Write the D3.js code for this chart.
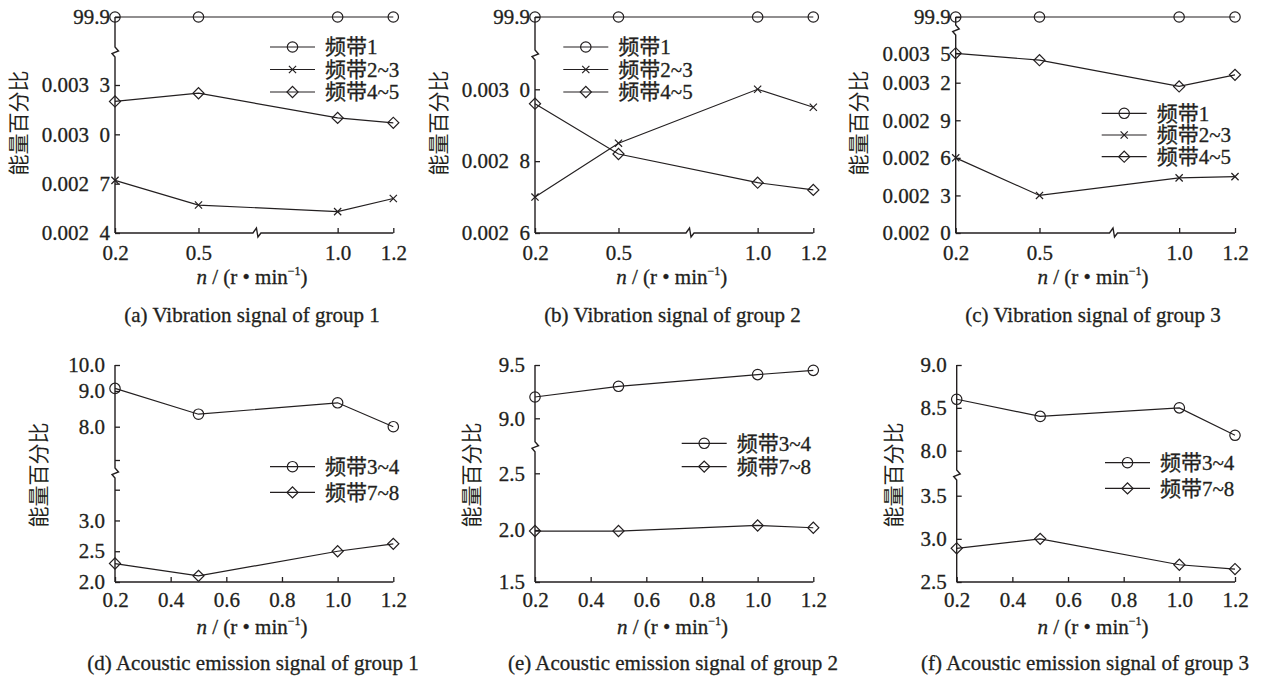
<!DOCTYPE html>
<html lang="zh">
<head>
<meta charset="UTF-8">
<title>能量百分比</title>
<script src="https://cdnjs.cloudflare.com/ajax/libs/d3/7.8.5/d3.min.js"></script>
<style>
	body { margin: 0; background: #fff; }
	svg text {
		font-family: 'Liberation Serif', 'Times New Roman', 'Noto Sans CJK SC', serif;
		fill: #231f20;
		stroke: #231f20;
		stroke-width: 0.3px;
	}
</style>
</head>
<body>
<script>

// ---- data ----
var speeds = [0.2, 0.5, 1.0, 1.2];
var xTicksVib = [0.2, 0.5, 1.0, 1.2];
var xTicksAE = [0.2, 0.4, 0.6, 0.8, 1.0, 1.2];

var vibNames = ['频带1', '频带2~3', '频带4~5'];
var aeNames = ['频带3~4', '频带7~8'];

// vibration, group 1..3
var vib1Band1 = [99.9, 99.9, 99.9, 99.9];
var vib1Band23 = [0.00272, 0.00257, 0.00253, 0.00261];
var vib1Band45 = [0.00320, 0.00325, 0.00310, 0.00307];

var vib2Band1 = [99.9, 99.9, 99.9, 99.9];
var vib2Band23 = [0.00270, 0.00285, 0.00300, 0.00295];
var vib2Band45 = [0.00296, 0.00282, 0.00274, 0.00272];

var vib3Band1 = [99.9, 99.9, 99.9, 99.9];
var vib3Band23 = [0.00260, 0.00230, 0.00244, 0.00245];
var vib3Band45 = [0.00350, 0.00343, 0.00317, 0.00328];

// acoustic emission, group 1..3
var ae1Band34 = [9.1, 8.35, 8.67, 8.0];
var ae1Band78 = [2.3, 2.1, 2.5, 2.62];

var ae2Band34 = [9.2, 9.3, 9.41, 9.45];
var ae2Band78 = [1.99, 1.99, 2.04, 2.02];

var ae3Band34 = [8.6, 8.4, 8.5, 8.18];
var ae3Band78 = [2.89, 3.0, 2.70, 2.65];

// y tick values
var vib1Ticks = [0.0024, 0.0027, 0.0030, 0.0033, 99.9];
var vib2Ticks = [0.0026, 0.0028, 0.0030, 99.9];
var vib3Ticks = [0.0020, 0.0023, 0.0026, 0.0029, 0.0032, 0.0035, 99.9];
var ae1Ticks = [2.0, 2.5, 3.0, 3.5, 7.0, 8.0, 9.0, 10.0];
var ae1Unlabeled = [3.5, 7.0];
var ae2Ticks = [1.5, 2.0, 2.5, 9.0, 9.5];
var ae3Ticks = [2.5, 3.0, 3.5, 8.0, 8.5, 9.0];

var captions = [
	'(a) Vibration signal of group 1',
	'(b) Vibration signal of group 2',
	'(c) Vibration signal of group 3',
	'(d) Acoustic emission signal of group 1',
	'(e) Acoustic emission signal of group 2',
	'(f) Acoustic emission signal of group 3'
];

var ink = '#231f20';
var fontSize = 21;

function fmtVib(v) {
	if (v > 1) return d3.format('.1f')(v);
	var s = d3.format('.4f')(v);
	return s.slice(0, -1) + '\u2002' + s.slice(-1);
}
function fmtAE(unlabeled) {
	return function (v) {
		return unlabeled.indexOf(v) >= 0 ? '' : d3.format('.1f')(v);
	};
}

// ---- layout per panel (broken axes are polylinear scales) ----
var panels = [
	{ x0: 115, x1: 393.3, yDom: [0.0024, 0.0033, 99.9], yRng: [233, 85, 17], yTicks: vib1Ticks,
	  xTicks: xTicksVib, yBreak: 52, xBreak: 0.71, yPad: 5, xPad: 12, fmt: fmtVib,
	  series: [vib1Band1, vib1Band23, vib1Band45], names: vibNames, marks: ['circle', 'times', 'diamond'],
	  leg: [270, 47, 22.5], title: [18.3, 123], capX: 252, labX: 252, labY: 284, capY: 322 },
	{ x0: 535, x1: 813.3, yDom: [0.0026, 0.0030, 99.9], yRng: [233, 89.3, 17], yTicks: vib2Ticks,
	  xTicks: xTicksVib, yBreak: 55, xBreak: 0.757, yPad: 5, xPad: 12, fmt: fmtVib,
	  series: [vib2Band1, vib2Band23, vib2Band45], names: vibNames, marks: ['circle', 'times', 'diamond'],
	  leg: [563.3, 47, 22.5], title: [438.3, 123], capX: 672.5, labX: 671.7, labY: 284, capY: 322 },
	{ x0: 955.7, x1: 1235, yDom: [0.0020, 0.0032, 0.0035, 99.9], yRng: [233, 82.7, 53.3, 17], yTicks: vib3Ticks,
	  xTicks: xTicksVib, yBreak: 30, xBreak: 0.765, yPad: 5, xPad: 12, fmt: fmtVib,
	  series: [vib3Band1, vib3Band23, vib3Band45], names: vibNames, marks: ['circle', 'times', 'diamond'],
	  leg: [1101.7, 113.3, 21.7], title: [858.3, 123], capX: 1093, labX: 1093, labY: 284, capY: 322 },
	{ x0: 115, x1: 393.3, yDom: [2.0, 3.5, 7.0, 8.0, 9.0, 10.0], yRng: [582, 489.7, 460, 426.7, 391, 365], yTicks: ae1Ticks,
	  xTicks: xTicksAE, yBreak: 473, xBreak: null, yPad: 10, xPad: 10, fmt: fmtAE(ae1Unlabeled),
	  series: [ae1Band34, ae1Band78], names: aeNames, marks: ['circle', 'diamond'],
	  leg: [270, 466.7, 25.7], title: [38.3, 475], capX: 253, labX: 252, labY: 634, capY: 670 },
	{ x0: 535, x1: 813.3, yDom: [1.5, 2.0, 2.5, 9.0, 9.5], yRng: [582, 530, 473.3, 418.3, 365], yTicks: ae2Ticks,
	  xTicks: xTicksAE, yBreak: 446.7, xBreak: null, yPad: 10, xPad: 10, fmt: fmtAE([]),
	  series: [ae2Band34, ae2Band78], names: aeNames, marks: ['circle', 'diamond'],
	  leg: [681.7, 443.3, 23.3], title: [471.7, 475], capX: 673, labX: 672.5, labY: 634, capY: 670 },
	{ x0: 956.7, x1: 1235, yDom: [2.5, 3.5, 8.0, 9.0], yRng: [582, 495.7, 450.7, 365], yTicks: ae3Ticks,
	  xTicks: xTicksAE, yBreak: 475, xBreak: null, yPad: 10, xPad: 10, fmt: fmtAE([]),
	  series: [ae3Band34, ae3Band78], names: aeNames, marks: ['circle', 'diamond'],
	  leg: [1105, 462.7, 25.7], title: [893.3, 475], capX: 1085, labX: 1093, labY: 634, capY: 670 }
];

var svg = d3.select('body').append('svg')
	.attr('width', 1261)
	.attr('height', 678);

function drawMark(sel, type) {
	if (type === 'circle') {
		sel.append('circle').attr('r', 5.2);
	} else if (type === 'diamond') {
		sel.append('path').attr('d', d3.symbol(d3.symbolSquare, 62)()).attr('transform', 'rotate(45)');
	} else {
		sel.append('path').attr('d', 'M-3.6,-3.6L3.6,3.6M-3.6,3.6L3.6,-3.6');
	}
	sel.selectAll('*').attr('fill', 'none').attr('stroke', ink).attr('stroke-width', 1.2);
}

panels.forEach(function (p, pi) {
	var g = svg.append('g');
	var x = d3.scaleLinear().domain([0.2, 1.2]).range([p.x0, p.x1]);
	var y = d3.scaleLinear().domain(p.yDom).range(p.yRng);
	var yb = y(p.yDom[0]);
	var yt = y(p.yDom[p.yDom.length - 1]);

	// x ticks (inside)
	var xa = g.append('g')
		.attr('transform', 'translate(0,' + yb + ')')
		.call(d3.axisBottom(x).tickValues(p.xTicks).tickSizeInner(-5).tickSizeOuter(0)
			.tickPadding(p.xPad).tickFormat(d3.format('.1f')));
	xa.select('.domain').remove();
	xa.selectAll('line').attr('stroke', ink).attr('stroke-width', 1.3);
	xa.selectAll('text').attr('font-size', fontSize);

	// y ticks (inside)
	var ya = g.append('g')
		.attr('transform', 'translate(' + p.x0 + ',0)')
		.call(d3.axisLeft(y).tickValues(p.yTicks).tickSizeInner(-5).tickSizeOuter(0)
			.tickPadding(p.yPad).tickFormat(p.fmt));
	ya.select('.domain').remove();
	ya.selectAll('line').attr('stroke', ink).attr('stroke-width', 1.3);
	ya.selectAll('text').attr('font-size', fontSize);

	// axis lines with break marks
	var ax = p.x0, bY = p.yBreak;
	var yPath = 'M' + ax + ',' + yt + 'V' + (bY - 5) +
		'L' + (ax + 3.5) + ',' + (bY - 1) + 'L' + (ax - 3) + ',' + (bY + 1.5) +
		'L' + ax + ',' + (bY + 5) + 'V' + yb;
	var xPath;
	if (p.xBreak) {
		var bx = x(p.xBreak);
		xPath = 'M' + p.x0 + ',' + yb + 'H' + (bx - 4) + 'L' + (bx - 0.5) + ',' + (yb - 5) +
			'L' + (bx + 1) + ',' + (yb + 4) + 'L' + (bx + 4) + ',' + yb + 'H' + p.x1;
	} else {
		xPath = 'M' + p.x0 + ',' + yb + 'H' + p.x1;
	}
	g.append('path').attr('d', yPath + xPath)
		.attr('fill', 'none').attr('stroke', ink).attr('stroke-width', 1.4);

	// series
	var line = d3.line()
		.x(function (d, i) { return x(speeds[i]); })
		.y(function (d) { return y(d); });

	p.series.forEach(function (vals, si) {
		g.append('path').attr('d', line(vals))
			.attr('fill', 'none').attr('stroke', ink).attr('stroke-width', 1.2);
		g.selectAll('.m' + si)
			.data(vals)
			.enter().append('g')
			.attr('class', 'm' + si)
			.attr('transform', function (d, i) { return 'translate(' + x(speeds[i]) + ',' + y(d) + ')'; })
			.each(function () { drawMark(d3.select(this), p.marks[si]); });
	});

	// legend
	var leg = g.selectAll('.leg')
		.data(p.names)
		.enter().append('g')
		.attr('class', 'leg')
		.attr('transform', function (d, i) {
			return 'translate(' + p.leg[0] + ',' + (p.leg[1] + i * p.leg[2]) + ')';
		});
	leg.append('line').attr('x1', 0).attr('x2', 45)
		.attr('stroke', ink).attr('stroke-width', 1.2);
	leg.each(function (d, i) {
		var m = d3.select(this).append('g').attr('transform', 'translate(22.5,0)');
		drawMark(m, p.marks[i]);
	});
	leg.append('text')
		.attr('x', 55)
		.attr('dy', '0.35em')
		.attr('font-size', fontSize)
		.text(function (d) { return d; });

	// y title
	g.append('text')
		.attr('transform', 'translate(' + p.title[0] + ',' + p.title[1] + ') rotate(-90)')
		.attr('text-anchor', 'middle')
		.attr('dy', '0.35em')
		.attr('font-size', fontSize)
		.style('stroke-width', 0)
		.text('能量百分比');

	// x label
	var xl = g.append('text')
		.attr('x', p.labX)
		.attr('y', p.labY)
		.attr('text-anchor', 'middle')
		.attr('font-size', fontSize);
	xl.append('tspan').attr('font-style', 'italic').text('n');
	xl.append('tspan').text(' / (r \u2022 min');
	xl.append('tspan').attr('font-size', 12).attr('dy', -9).text('\u22121');
	xl.append('tspan').attr('dy', 9).text(')');

	// caption
	g.append('text')
		.attr('x', p.capX)
		.attr('y', p.capY)
		.attr('text-anchor', 'middle')
		.attr('font-size', fontSize)
		.text(captions[pi]);
});

</script>
</body>
</html>
